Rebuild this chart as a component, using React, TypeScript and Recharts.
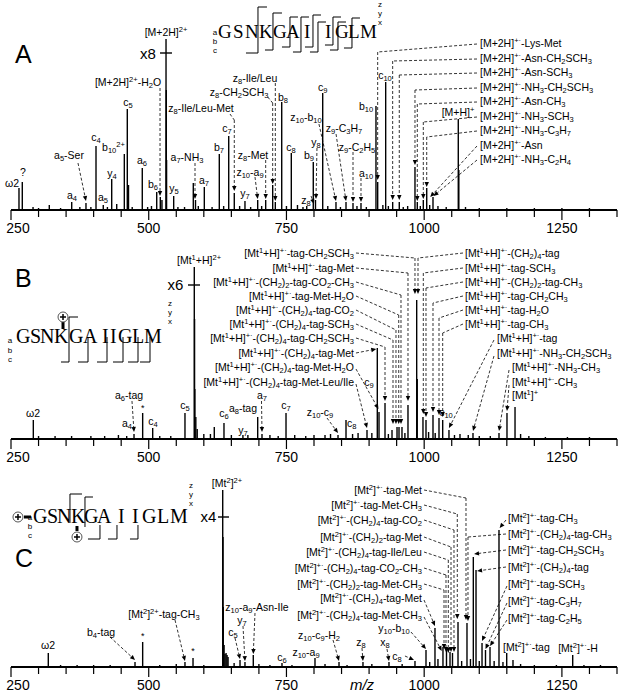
import { ComposedChart, ReferenceDot, ReferenceLine, Scatter, XAxis, YAxis } from "recharts";

const SANS = "'Liberation Sans', Arial, Helvetica, sans-serif";
const SERIF = "'Liberation Serif', 'Times New Roman', serif";

const W = 624;
const PLOT_H = 210;
const AXIS_H = 30;
const MARGIN = { top: 0, right: 7, bottom: 0, left: 11 };

const MZ_TICKS = [
  250, 300, 350, 400, 450, 500, 550, 600, 650, 700, 750, 800,
  850, 900, 950, 1000, 1050, 1100, 1150, 1200, 1250, 1300, 1350,
];
const MZ_LABELED = [250, 500, 750, 1000, 1250];

type Pt = [number, number];

// peaks: [m/z, height] (height on a 0..210 scale for each panel)
const PEAKS_A: Pt[] = [
  [264.5, 22], [270.5, 28], [319.5, 5], [360.2, 8], [386.1, 7], [404.3, 64], [417.5, 5],
  [432.8, 31], [441.9, 6], [455.7, 56], [461.1, 101], [463.3, 25], [488.3, 42], [514.5, 18],
  [521.0, 13], [524.0, 10], [531.4, 171], [531.9, 120], [532.4, 50], [545.3, 14], [580.9, 27],
  [584.9, 10], [600.9, 23], [628.1, 56], [645.2, 74], [655.3, 17], [674.7, 9], [697.8, 10],
  [712.3, 10], [725.0, 25], [729.8, 8], [741.4, 108], [758.8, 57], [786.8, 4], [798.7, 48],
  [802.7, 10], [815.8, 117], [839.9, 8], [858.1, 8], [870.8, 7], [885.3, 7], [912.5, 104],
  [915.6, 28], [930.1, 128], [942.8, 8], [954.8, 8], [983.3, 43], [987.5, 8], [998.4, 10],
  [1004.6, 22], [1016.0, 13], [1061.9, 91], [1062.9, 40],
];
const NOISE_A: Pt[] = [
  [290, 3], [300, 2], [340, 2], [375, 3], [395, 3], [425, 3], [470, 3], [498, 3], [505, 4],
  [553, 3], [565, 3], [590, 4], [615, 3], [636, 4], [665, 4], [685, 3], [705, 4], [750, 4],
  [770, 5], [780, 3], [825, 4], [848, 3], [878, 4], [895, 3], [925, 5], [935, 4], [962, 3],
  [970, 4], [993, 4], [1010, 5], [1025, 4], [1040, 3], [1075, 3], [1100, 2], [1150, 2],
  [1200, 2], [1250, 2], [1300, 2],
];

const PEAKS_B: Pt[] = [
  [290.5, 19], [473.3, 5], [489.0, 26], [507.2, 11], [565.8, 26], [582.7, 172], [583.2, 120],
  [583.7, 50], [585.5, 22], [588.0, 10], [619.0, 12], [636.6, 16], [671.0, 4], [697.8, 22],
  [705.6, 5], [749.2, 26], [843.6, 4], [858.1, 19], [896.2, 9], [914.9, 91], [918.0, 27],
  [928.9, 36], [941.6, 9], [950.7, 12], [954.3, 12], [959.7, 12], [970.6, 34], [986.4, 139],
  [987.4, 60], [997.8, 22], [1003.3, 19], [1016.0, 24], [1026.9, 21], [1033.6, 19],
  [1045.0, 9], [1088.6, 6], [1135.8, 6], [1150.3, 26], [1164.9, 32],
];
const NOISE_B: Pt[] = [
  [300, 3], [330, 3], [360, 3], [395, 3], [420, 3], [445, 4], [460, 3], [520, 3], [540, 3],
  [600, 5], [612, 5], [650, 4], [680, 4], [720, 4], [735, 3], [765, 4], [785, 3], [800, 4],
  [820, 4], [830, 5], [870, 5], [880, 6], [905, 6], [935, 5], [965, 6], [1008, 7], [1020, 6],
  [1055, 4], [1065, 5], [1080, 4], [1100, 3], [1120, 3], [1175, 5], [1190, 3], [1220, 2],
  [1260, 2], [1300, 2],
];

const PEAKS_C: Pt[] = [
  [317.7, 14], [475.1, 5], [489.0, 25], [565.8, 5], [580.4, 9], [634.3, 177], [634.8, 130],
  [635.3, 60], [636.8, 22], [638.5, 13], [640.4, 14], [642.2, 12], [644.0, 10], [665.7, 7],
  [674.7, 5], [689.8, 12], [741.9, 4], [801.8, 9], [845.4, 5], [888.9, 5], [936.1, 5],
  [983.3, 6], [1003.3, 17], [1019.6, 39], [1034.1, 20], [1040.5, 17], [1046.9, 15],
  [1051.4, 14], [1061.4, 45], [1077.7, 44], [1089.2, 110], [1094.1, 97], [1105.0, 24],
  [1111.3, 17], [1119.5, 20], [1135.8, 137], [1149.8, 14], [1161.2, 7], [1269.6, 12],
];
const NOISE_C: Pt[] = [
  [340, 2], [370, 2], [400, 2], [430, 2], [520, 2], [550, 3], [600, 2], [655, 4], [700, 3],
  [720, 2], [760, 2], [820, 3], [860, 2], [905, 3], [960, 3], [1010, 5], [1025, 8], [1068, 6],
  [1084, 8], [1100, 6], [1127, 6], [1143, 5], [1175, 3], [1200, 2], [1240, 2], [1290, 2],
  [1320, 2],
];

// annotations: text, position (m/z, height of text centre), optional dashed arrow path
type Ann = { t: string; x: number; v: number; a?: "start" | "middle" | "end"; s?: number; i?: boolean; p?: Pt[] };

const ANN_A: Ann[] = [
  { t: "A", x: 257.3, v: 156, a: "start", s: 25 },
  { t: "[M+2H]^{2+}", x: 531.4, v: 178 },
  { t: "x8", x: 498.7, v: 156, s: 15 },
  { t: "ω2", x: 251.8, v: 27 },
  { t: "?", x: 271.8, v: 38 },
  { t: "a_{4}", x: 360.7, v: 15 },
  { t: "a_{5}-Ser", x: 355.3, v: 55, p: [[371.6, 47], [386.1, 9]] },
  { t: "c_{4}", x: 404.3, v: 73 },
  { t: "a_{5}", x: 417, v: 13 },
  { t: "y_{4}", x: 433.3, v: 37 },
  { t: "b_{10}^{2+}", x: 436, v: 63 },
  { t: "c_{5}", x: 462.4, v: 108 },
  { t: "a_{6}", x: 487.8, v: 50 },
  { t: "b_{6}", x: 507.8, v: 26 },
  { t: "[M+2H]^{2+}-H_{2}O", x: 462.4, v: 128, p: [[520.5, 122], [520.5, 14]] },
  { t: "y_{5}", x: 545.9, v: 22 },
  { t: "a_{7}-NH_{3}", x: 569.5, v: 53, p: [[584, 47], [584, 11]] },
  { t: "a_{7}", x: 600.3, v: 30 },
  { t: "b_{7}", x: 627.6, v: 63 },
  { t: "c_{7}", x: 642.1, v: 82 },
  { t: "z_{8}-Ile/Leu-Met", x: 595, v: 102, p: [[647.5, 96], [655.3, 90], [655.3, 19]] },
  { t: "y_{7}", x: 674.7, v: 17 },
  { t: "z_{10}-a_{9}", x: 683.8, v: 38, p: [[692.9, 33], [697.8, 11]] },
  { t: "z_{8}-Met", x: 689.3, v: 55, p: [[712.3, 50], [712.3, 11]] },
  { t: "z_{8}-CH_{2}SCH_{3}", x: 664, v: 118, p: [[716, 113], [725, 107], [725, 26]] },
  { t: "z_{8}-Ile/Leu", x: 692.9, v: 132, p: [[729.8, 127], [729.8, 9]] },
  { t: "b_{8}", x: 743.7, v: 113 },
  { t: "c_{8}", x: 758.3, v: 63 },
  { t: "z_{10}-b_{10}", x: 785.5, v: 93, p: [[809, 86], [839.9, 9]] },
  { t: "y_{8}", x: 803.6, v: 68, p: [[805.4, 62], [803.6, 11]] },
  { t: "b_{9}", x: 791, v: 55 },
  { t: "z_{8}", x: 785.5, v: 10, p: [[794.6, 14], [800, 6]] },
  { t: "c_{9}", x: 815.8, v: 123 },
  { t: "z_{9}-C_{3}H_{7}", x: 854.5, v: 82, p: [[840, 76], [858.1, 9]] },
  { t: "z_{9}-C_{2}H_{5}", x: 878, v: 63, p: [[870.8, 58], [870.8, 8]] },
  { t: "a_{10}", x: 894.4, v: 37, p: [[885.3, 32], [885.3, 8]] },
  { t: "b_{10}", x: 894.4, v: 104 },
  { t: "c_{10}", x: 928.9, v: 135 },
  { t: "[M+H]^{+}", x: 1061.4, v: 98 },
  { t: "[M+2H]^{+·}-Lys-Met", x: 1101.3, v: 167, a: "start", p: [[1095.9, 166], [915.6, 158], [915.6, 30]] },
  { t: "[M+2H]^{+·}-Asn-CH_{2}SCH_{3}", x: 1101.3, v: 152, a: "start", p: [[1095.9, 151], [942.8, 149], [942.8, 10]] },
  { t: "[M+2H]^{+·}-Asn-SCH_{3}", x: 1101.3, v: 138, a: "start", p: [[1095.9, 137], [954.8, 135], [954.8, 10]] },
  { t: "[M+2H]^{+·}-NH_{3}-CH_{2}SCH_{3}", x: 1101.3, v: 123, a: "start", p: [[1095.9, 122], [983.3, 120], [983.3, 45]] },
  { t: "[M+2H]^{+·}-Asn-CH_{3}", x: 1101.3, v: 109, a: "start", p: [[1095.9, 108], [987.5, 106], [987.5, 9]] },
  { t: "[M+2H]^{+·}-NH_{3}-SCH_{3}", x: 1101.3, v: 94, a: "start", p: [[1095.9, 93], [998.4, 88], [998.4, 11]] },
  { t: "[M+2H]^{+·}-NH_{3}-C_{3}H_{7}", x: 1101.3, v: 80, a: "start", p: [[1095.9, 79], [1004.6, 73], [1004.6, 23]] },
  { t: "[M+2H]^{+·}-Asn", x: 1101.3, v: 65, a: "start", p: [[1095.9, 64], [1011, 13]] },
  { t: "[M+2H]^{+·}-NH_{3}-C_{2}H_{4}", x: 1101.3, v: 51, a: "start", p: [[1095.9, 50], [1017, 14]] },
];

const ANN_B: Ann[] = [
  { t: "B", x: 257.3, v: 161, a: "start", s: 25 },
  { t: "[Mt^{1}+H]^{2+}", x: 591.3, v: 179 },
  { t: "x6", x: 548.6, v: 154, s: 15 },
  { t: "ω2", x: 290, v: 26 },
  { t: "a_{6}-tag", x: 464.2, v: 44, p: [[469.6, 38], [473.3, 7]] },
  { t: "a_{4}", x: 460.6, v: 16 },
  { t: "*", x: 489, v: 31, s: 9 },
  { t: "c_{4}", x: 507.8, v: 18 },
  { t: "c_{5}", x: 565.8, v: 34 },
  { t: "c_{6}", x: 636.6, v: 26 },
  { t: "y_{7}", x: 671.1, v: 9 },
  { t: "a_{8}-tag", x: 671.1, v: 31 },
  { t: "a_{7}", x: 705.6, v: 44, p: [[704.7, 38], [705.6, 7]] },
  { t: "c_{7}", x: 749.2, v: 34 },
  { t: "z_{10}-c_{9}", x: 810.9, v: 27, p: [[823.6, 21], [843.6, 6]] },
  { t: "c_{8}", x: 859.9, v: 16, a: "start" },
  { t: "c_{9}", x: 899.8, v: 57 },
  { t: "c_{10}", x: 1039.6, v: 27 },
  { t: "[Mt^{1}]^{+}", x: 1159.4, v: 44, a: "start" },
  { t: "[Mt^{1}+H]^{+·}-tag-CH_{2}SCH_{3}", x: 872.6, v: 186, a: "end", p: [[876.2, 186], [983.3, 181], [983.3, 145]] },
  { t: "[Mt^{1}+H]^{+·}-tag-Met", x: 872.6, v: 171, a: "end", p: [[876.2, 171], [970.6, 166], [970.6, 38]] },
  { t: "[Mt^{1}+H]^{+·}-(CH_{2})_{2}-tag-CO_{2}-CH_{3}", x: 872.6, v: 157, a: "end", p: [[876.2, 157], [957.9, 144], [957.9, 15]] },
  { t: "[Mt^{1}+H]^{+·}-tag-Met-H_{2}O", x: 872.6, v: 143, a: "end", p: [[876.2, 143], [953.8, 124], [953.8, 15]] },
  { t: "[Mt^{1}+H]^{+·}-(CH_{2})_{4}-tag-CO_{2}", x: 872.6, v: 129, a: "end", p: [[876.2, 129], [948.8, 109], [948.8, 15]] },
  { t: "[Mt^{1}+H]^{+·}-(CH_{2})_{4}-tag-SCH_{3}", x: 872.6, v: 115, a: "end", p: [[876.2, 115], [943.4, 99], [943.4, 15]] },
  { t: "[Mt^{1}+H]^{+·}-(CH_{2})_{4}-tag-CH_{2}SCH_{3}", x: 872.6, v: 101, a: "end", p: [[876.2, 101], [928.9, 92], [928.9, 38]] },
  { t: "[Mt^{1}+H]^{+·}-(CH_{2})_{4}-tag-Met", x: 872.6, v: 86, a: "end", p: [[876.2, 86], [913, 90]] },
  { t: "[Mt^{1}+H]^{+·}-(CH_{2})_{4}-tag-Met-H_{2}O", x: 872.6, v: 72, a: "end", p: [[876.2, 70], [917, 30]] },
  { t: "[Mt^{1}+H]^{+·}-(CH_{2})_{4}-tag-Met-Leu/Ile", x: 872.6, v: 57, a: "end", p: [[876.2, 55], [896.2, 11]] },
  { t: "[Mt^{1}+H]^{+·}-(CH_{2})_{4}-tag", x: 1074.1, v: 186, a: "start", p: [[1070.5, 186], [988.8, 181], [988.8, 145]] },
  { t: "[Mt^{1}+H]^{+·}-tag-SCH_{3}", x: 1074.1, v: 171, a: "start", p: [[1070.5, 171], [998.4, 166], [998.4, 25]] },
  { t: "[Mt^{1}+H]^{+·}-(CH_{2})_{2}-tag-CH_{3}", x: 1074.1, v: 157, a: "start", p: [[1070.5, 157], [1003.3, 151], [1003.3, 22]] },
  { t: "[Mt^{1}+H]^{+·}-tag-CH_{2}CH_{3}", x: 1074.1, v: 143, a: "start", p: [[1070.5, 143], [1016, 136], [1016, 27]] },
  { t: "[Mt^{1}+H]^{+·}-tag-H_{2}O", x: 1074.1, v: 129, a: "start", p: [[1070.5, 129], [1026.9, 121], [1026.9, 24]] },
  { t: "[Mt^{1}+H]^{+·}-tag-CH_{3}", x: 1074.1, v: 115, a: "start", p: [[1070.5, 115], [1033.6, 106], [1033.6, 22]] },
  { t: "[Mt^{1}+H]^{+·}-tag", x: 1132.2, v: 101, a: "start", p: [[1126.7, 99], [1045, 11]] },
  { t: "[Mt^{1}+H]^{+·}-NH_{3}-CH_{2}SCH_{3}", x: 1132.2, v: 86, a: "start", p: [[1126.7, 83], [1088.6, 8]] },
  { t: "[Mt^{1}+H]^{+·}-NH_{3}-CH_{3}", x: 1159.4, v: 72, a: "start", p: [[1154, 69], [1135.8, 8]] },
  { t: "[Mt^{1}+H]^{+·}-CH_{3}", x: 1159.4, v: 57, a: "start", p: [[1154, 54], [1150.3, 28]] },
];

const ANN_C: Ann[] = [
  { t: "C", x: 257.3, v: 109, a: "start", s: 25 },
  { t: "[Mt^{2}]^{2+}", x: 642.1, v: 184 },
  { t: "x4", x: 608.5, v: 150, s: 15 },
  { t: "ω2", x: 317.2, v: 22 },
  { t: "b_{4}-tag", x: 413.4, v: 35, p: [[429.7, 30], [475.1, 7]] },
  { t: "*", x: 489, v: 31, s: 9 },
  { t: "[Mt^{2}]^{2+}-tag-CH_{3}", x: 527.7, v: 53, p: [[547.7, 47], [565.8, 6]] },
  { t: "*", x: 580.4, v: 16, s: 9 },
  { t: "z_{10}-a_{9}-Asn-Ile", x: 696.5, v: 60, p: [[692.9, 54], [689.8, 13]] },
  { t: "y_{7}", x: 669.3, v: 47, p: [[671.1, 41], [674.7, 6]] },
  { t: "c_{5}", x: 653, v: 35, p: [[656.6, 29], [665.7, 8]] },
  { t: "c_{6}", x: 741.9, v: 10 },
  { t: "z_{10}-a_{9}", x: 785.5, v: 15 },
  { t: "z_{10}-c_{9}-H_{2}", x: 809.1, v: 32, p: [[834.5, 27], [845.4, 6]] },
  { t: "z_{8}", x: 885.3, v: 25, p: [[887.1, 19], [888.9, 6]] },
  { t: "y_{10}-b_{10}", x: 945.2, v: 39, p: [[976, 35], [1003.3, 18]] },
  { t: "x_{8}", x: 928.9, v: 25, p: [[932.5, 18], [936.1, 6]] },
  { t: "c_{8}", x: 950.7, v: 11, p: [[965.1, 11], [981.5, 7]] },
  { t: "[Mt^{2}]^{+·}-tag", x: 1143.1, v: 20, a: "start" },
  { t: "[Mt^{2}]^{+·}-H", x: 1279.2, v: 19 },
  { t: "[Mt^{2}]^{+·}-tag-Met", x: 996, v: 177, a: "end", p: [[999.7, 177], [1075.9, 169], [1075.9, 47]] },
  { t: "[Mt^{2}]^{+·}-tag-Met-CH_{3}", x: 996, v: 162, a: "end", p: [[999.7, 162], [1060.1, 153], [1060.1, 48]] },
  { t: "[Mt^{2}]^{+·}-(CH_{2})_{4}-tag-CO_{2}", x: 996, v: 147, a: "end", p: [[999.7, 147], [1054.1, 137], [1054.1, 15]] },
  { t: "[Mt^{2}]^{+·}-(CH_{2})_{2}-tag-Met", x: 996, v: 130, a: "end", p: [[999.7, 130], [1048.7, 120], [1048.7, 15]] },
  { t: "[Mt^{2}]^{+·}-(CH_{2})_{4}-tag-Ile/Leu", x: 996, v: 115, a: "end", p: [[999.7, 115], [1043.8, 107], [1043.8, 14]] },
  { t: "[Mt^{2}]^{+·}-(CH_{2})_{4}-tag-CO_{2}-CH_{3}", x: 996, v: 99, a: "end", p: [[999.7, 99], [1039.6, 92], [1039.6, 15]] },
  { t: "[Mt^{2}]^{+·}-(CH_{2})_{2}-tag-Met-CH_{3}", x: 996, v: 83, a: "end", p: [[999.7, 83], [1036, 77], [1036, 18]] },
  { t: "[Mt^{2}]^{+·}-(CH_{2})_{4}-tag-Met", x: 996, v: 69, a: "end", p: [[999.7, 67], [1019.6, 41]] },
  { t: "[Mt^{2}]^{+·}-(CH_{2})_{4}-tag-Met-CH_{3}", x: 996, v: 52, a: "end", p: [[999.7, 50], [1031.8, 16]] },
  { t: "[Mt^{2}]^{+·}-tag-CH_{3}", x: 1152.1, v: 149, a: "start", p: [[1148.5, 147], [1137, 139]] },
  { t: "[Mt^{2}]^{+·}-(CH_{2})_{4}-tag-CH_{3}", x: 1152.1, v: 133, a: "start", p: [[1148.5, 133], [1079.5, 130], [1079.5, 46]] },
  { t: "[Mt^{2}]^{+·}-tag-CH_{2}SCH_{3}", x: 1152.1, v: 117, a: "start", p: [[1148.5, 117], [1090.5, 113]] },
  { t: "[Mt^{2}]^{+·}-(CH_{2})_{4}-tag", x: 1152.1, v: 100, a: "start", p: [[1148.5, 100], [1096, 96]] },
  { t: "[Mt^{2}]^{+·}-tag-SCH_{3}", x: 1152.1, v: 83, a: "start", p: [[1150.3, 81], [1105, 26]] },
  { t: "[Mt^{2}]^{+·}-tag-C_{3}H_{7}", x: 1152.1, v: 66, a: "start", p: [[1150.3, 64], [1111.3, 18]] },
  { t: "[Mt^{2}]^{+·}-tag-C_{2}H_{5}", x: 1152.1, v: 49, a: "start", p: [[1150.3, 47], [1119.5, 21]] },
  { t: "m/z", x: 887.1, v: -18, s: 15, i: true },
];

// magnification markers: label sits in ANN, this is the short bar across the peak
const MAG_A = { x1: 520.5, x2: 542.2, v: 157 };
const MAG_B = { x1: 571.3, x2: 593.1, v: 154 };
const MAG_C = { x1: 625.7, x2: 645.7, v: 150 };

// peptide sequence drawings (offsets in px from the first letter's baseline)
type Seq = {
  x: number; v: number; size: number;
  letters: number[];
  brackets: [number, number, number, number, number][];
  abc: [number, number, number]; zyx: [number, number, number];
  plus: [number, number, number, number, number, number][];
};
const LETTERS = "GSNKGAIIGLM".split("");

const SEQ_A: Seq = {
  x: 625.7, v: 172, size: 19,
  letters: [0, 15, 27, 41, 55, 68, 86, 107, 117, 130, 142],
  brackets: [
    [40, -31, 15, 9, -12], [55, -25, 12, 9, -8], [72, -21, 9, 8, -8], [83, -21, 14, 8, -8],
    [95, -23, 9, 8, -8], [100, -16, 14, 8, -8], [115, -21, 7, 8, -8], [120, -16, 12, 8, -8],
    [134, -20, 10, 8, -8],
  ],
  abc: [-3, -3, 9], zyx: [162, -31, 9],
  plus: [],
};
const SEQ_B: Seq = {
  x: 259.1, v: 96, size: 20,
  letters: [0, 14, 24, 38, 53, 67, 86, 94, 102, 116, 128],
  brackets: [
    [53, -26, 19, 9, -8], [72, -6, 19, 0, -10], [91, -6, 19, 0, -10], [107, -6, 19, 0, -10],
    [122, -6, 19, 0, -10], [134, -6, 19, 0, -10],
  ],
  abc: [-6, 0, 9.5], zyx: [154, -37, 9],
  plus: [[47, -26, 47, -21, 47, -14]],
};
const SEQ_C: Seq = {
  x: 289.9, v: 144, size: 20,
  letters: [0, 14, 24, 38, 51, 64, 85, 99, 109, 124, 137],
  brackets: [
    [37, -29, 0, 12, 0], [52, -26, 4, 8, 0], [67, 2, 16, 0, -12], [84, 2, 16, 0, -9],
    [105, 2, 16, 0, -8],
  ],
  abc: [-3, -3, 9], zyx: [158, -35, 9],
  plus: [[-15, -6, -9, -6, -2, -6], [44, 14, 44, 3, 44, 8]],
};

function splitRich(s: string) {
  const re = /([_^])\{([^}]*)\}/g;
  const out: { t: string; k: number }[] = [];
  let last = 0;
  let m: RegExpExecArray | null;
  while ((m = re.exec(s)) !== null) {
    if (m.index > last) out.push({ t: s.slice(last, m.index), k: 0 });
    out.push({ t: m[2], k: m[1] === "_" ? 1 : -1 });
    last = m.index + m[0].length;
  }
  if (last < s.length) out.push({ t: s.slice(last), k: 0 });
  return out;
}

function RichText({ x, y, text, anchor = "middle", size = 10.5, italic = false }: any) {
  let shift = 0;
  return (
    <text
      x={x}
      y={y + size * 0.35}
      textAnchor={anchor}
      fontFamily={SANS}
      fontSize={size}
      fontStyle={italic ? "italic" : "normal"}
      fill="#000"
    >
      {splitRich(text).map((p, i) => {
        const target = p.k === 1 ? size * 0.25 : p.k === -1 ? -size * 0.35 : 0;
        const dy = target - shift;
        shift = target;
        return (
          <tspan key={i} dy={dy} fontSize={p.k ? size * 0.72 : size}>
            {p.t}
          </tspan>
        );
      })}
    </text>
  );
}

function Seg({ x1, y1, x2, y2, arrow, solid }: any) {
  const dx = x2 - x1;
  const dy = y2 - y1;
  const len = Math.hypot(dx, dy) || 1;
  const ux = dx / len;
  const uy = dy / len;
  const bx = x2 - ux * 5;
  const by = y2 - uy * 5;
  return (
    <g>
      <line
        x1={x1}
        y1={y1}
        x2={arrow ? bx : x2}
        y2={arrow ? by : y2}
        stroke="#000"
        strokeWidth={solid ? 1.4 : 0.8}
        strokeDasharray={solid ? undefined : "3 2"}
      />
      {arrow && (
        <polygon
          points={`${x2},${y2} ${bx - uy * 2.2},${by + ux * 2.2} ${bx + uy * 2.2},${by - ux * 2.2}`}
          fill="#000"
        />
      )}
    </g>
  );
}

function Sequence({ cx, cy, seq }: { cx: number; cy: number; seq: Seq }) {
  return (
    <g>
      {LETTERS.map((ch, i) => (
        <text key={i} x={cx + seq.letters[i]} y={cy} fontFamily={SERIF} fontSize={seq.size} fill="#000">
          {ch}
        </text>
      ))}
      {seq.brackets.map(([dx, t, b, th, bh], i) => (
        <path
          key={i}
          d={`M${cx + dx + th},${cy + t} H${cx + dx} V${cy + b} H${cx + dx + bh}`}
          fill="none"
          stroke="#000"
          strokeWidth={1}
        />
      ))}
      {["a", "b", "c"].map((c, i) => (
        <text key={c} x={cx + seq.abc[0]} y={cy + seq.abc[1] + i * seq.abc[2]} fontFamily={SANS} fontSize={8} textAnchor="middle">
          {c}
        </text>
      ))}
      {["z", "y", "x"].map((c, i) => (
        <text key={c} x={cx + seq.zyx[0]} y={cy + seq.zyx[1] + i * seq.zyx[2]} fontFamily={SANS} fontSize={8} textAnchor="middle">
          {c}
        </text>
      ))}
      {seq.plus.map(([px, py, bx1, by1, bx2, by2], i) => (
        <g key={i}>
          <line x1={cx + bx1} y1={cy + by1} x2={cx + bx2} y2={cy + by2} stroke="#000" strokeWidth={3} />
          <circle cx={cx + px} cy={cy + py} r={5} fill="#fff" stroke="#555" strokeWidth={1} />
          <line x1={cx + px - 3} x2={cx + px + 3} y1={cy + py} y2={cy + py} stroke="#000" strokeWidth={1.5} />
          <line x1={cx + px} x2={cx + px} y1={cy + py - 3} y2={cy + py + 3} stroke="#000" strokeWidth={1.5} />
        </g>
      ))}
    </g>
  );
}

function MzTick({ x, y, payload }: any) {
  const v = payload.value;
  const major = MZ_LABELED.includes(v);
  return (
    <g>
      <line x1={x} x2={x} y1={y} y2={y + (major ? 10 : 7)} stroke="#000" strokeWidth={1.2} />
      {major && (
        <text x={x + (v === 250 ? 7 : 0)} y={y + 23} textAnchor="middle" fontFamily={SANS} fontSize={14} fill="#000">
          {v}
        </text>
      )}
    </g>
  );
}

const Stick = (p: any) => (
  <line x1={p.cx} x2={p.cx} y1={p.cy} y2={MARGIN.top + PLOT_H} stroke="#000" strokeWidth={1.4} />
);

function Panel({ peaks, anns, seq, mag }: { peaks: Pt[]; anns: Ann[]; seq: Seq; mag: { x1: number; x2: number; v: number } }) {
  const data = peaks.map(([mz, h]) => ({ mz, h }));
  return (
    <ComposedChart width={W} height={PLOT_H + AXIS_H} margin={MARGIN}>
      <XAxis
        type="number"
        dataKey="mz"
        domain={[250, 1350]}
        ticks={MZ_TICKS}
        interval={0}
        tick={(p: any) => <MzTick {...p} />}
        tickLine={false}
        tickSize={0}
        tickMargin={0}
        height={AXIS_H}
        axisLine={{ stroke: "#000", strokeWidth: 2 }}
      />
      <YAxis type="number" dataKey="h" domain={[0, PLOT_H]} hide />
      <Scatter data={data} shape={Stick} isAnimationActive={false} />
      <ReferenceLine
        segment={[{ x: mag.x1, y: mag.v }, { x: mag.x2, y: mag.v }]}
        ifOverflow="visible"
        shape={(p: any) => <Seg {...p} solid />}
      />
      {anns.map((a, i) =>
        (a.p ?? []).slice(1).map((pt, j) => {
          const from = (a.p as Pt[])[j];
          const isLast = j === (a.p as Pt[]).length - 2;
          return (
            <ReferenceLine
              key={`l${i}-${j}`}
              segment={[{ x: from[0], y: from[1] }, { x: pt[0], y: pt[1] }]}
              ifOverflow="visible"
              shape={(p: any) => <Seg {...p} arrow={isLast} />}
            />
          );
        })
      )}
      {anns.map((a, i) => (
        <ReferenceDot
          key={`t${i}`}
          x={a.x}
          y={a.v}
          ifOverflow="visible"
          shape={(p: any) => <RichText x={p.cx} y={p.cy} text={a.t} anchor={a.a ?? "middle"} size={a.s ?? 10.5} italic={a.i} />}
        />
      ))}
      <ReferenceDot x={seq.x} y={seq.v} ifOverflow="visible" shape={(p: any) => <Sequence cx={p.cx} cy={p.cy} seq={seq} />} />
    </ComposedChart>
  );
}

export default function App() {
  return (
    <div style={{ position: "absolute", left: 0, top: 0, width: W, height: 696, background: "#fff" }}>
      <div style={{ position: "absolute", left: 0, top: 0 }}>
        <Panel peaks={[...PEAKS_A, ...NOISE_A]} anns={ANN_A} seq={SEQ_A} mag={MAG_A} />
      </div>
      <div style={{ position: "absolute", left: 0, top: 229 }}>
        <Panel peaks={[...PEAKS_B, ...NOISE_B]} anns={ANN_B} seq={SEQ_B} mag={MAG_B} />
      </div>
      <div style={{ position: "absolute", left: 0, top: 457 }}>
        <Panel peaks={[...PEAKS_C, ...NOISE_C]} anns={ANN_C} seq={SEQ_C} mag={MAG_C} />
      </div>
    </div>
  );
}
